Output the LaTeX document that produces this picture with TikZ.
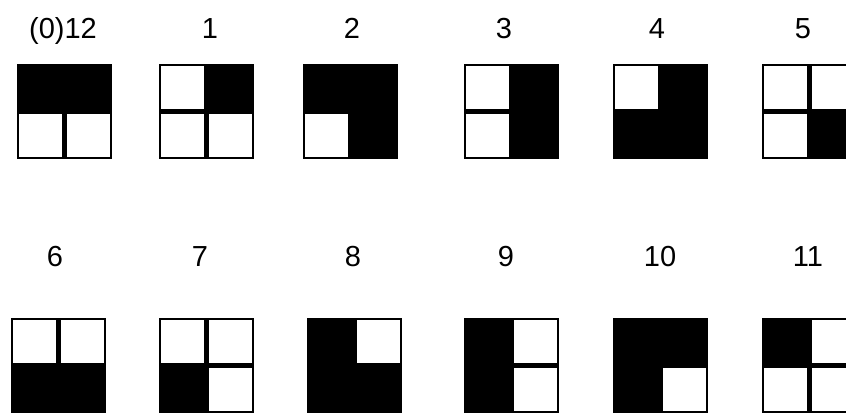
\documentclass[tikz,border=0pt]{standalone}
\usepackage{fontspec}
\setmainfont{Liberation Sans}
\usetikzlibrary{positioning}

\begin{document}
\begin{tikzpicture}[x=1pt, y=1pt,
    lbl/.style={anchor=base, inner sep=0pt, font=\fontsize{29}{29}\selectfont},
    hole/.style={fill=white}]
  \useasboundingbox (0,0) rectangle (846,415);
  \clip (0,0) rectangle (846,415);

  % top row: square x / label x / label / cells TL,TR,BL,BR (1 = black)
  \foreach \sx/\lx/\txt/\cells [count=\i] in
      {17/63/{(0)12}/{1,1,0,0}, 159/210/1/{0,1,0,0}, 303/352/2/{1,1,0,1},
       464/504/3/{0,1,0,1}, 613/657/4/{0,1,1,1}, 762/803/5/{0,0,0,1}}
  {
    \node[lbl] (top\i) at (\lx,376) {\txt};
    \fill (\sx,256) rectangle ++(95,95);
    \foreach \v [count=\k from 0] in \cells {
      \ifnum\v=0
        \pgfmathsetmacro\cx{\sx + mod(\k,2)*47.5}
        \pgfmathsetmacro\cy{256 + (1-div(\k,2))*47.5}
        \fill[hole] (\cx+2.3,\cy+2.3) rectangle ++(42.9,42.9);
      \fi
    }
  }

  % bottom row
  \foreach \sx/\lx/\txt/\cells [count=\i] in
      {11/55/6/{0,0,1,1}, 159/200/7/{0,0,1,0}, 307/353/8/{1,0,1,1},
       464/506/9/{1,0,1,0}, 613/660/10/{1,1,1,0}, 762/808/11/{1,0,0,0}}
  {
    \node[lbl] (bot\i) at (\lx,148) {\txt};
    \fill (\sx,2) rectangle ++(95,95);
    \foreach \v [count=\k from 0] in \cells {
      \ifnum\v=0
        \pgfmathsetmacro\cx{\sx + mod(\k,2)*47.5}
        \pgfmathsetmacro\cy{2 + (1-div(\k,2))*47.5}
        \fill[hole] (\cx+2.3,\cy+2.3) rectangle ++(42.9,42.9);
      \fi
    }
  }
\end{tikzpicture}
\end{document}
